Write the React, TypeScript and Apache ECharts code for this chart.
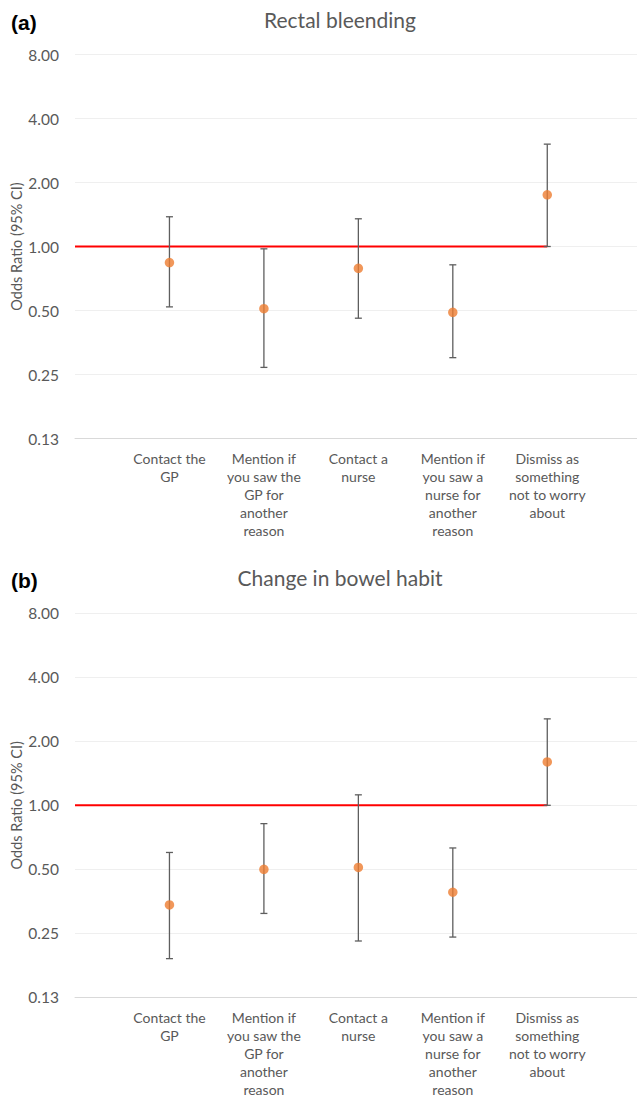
import React, { useEffect, useRef } from "react";
import * as echarts from "echarts";

const categories = [
  "Contact the\nGP",
  "Mention if\nyou saw the\nGP for\nanother\nreason",
  "Contact a\nnurse",
  "Mention if\nyou saw a\nnurse for\nanother\nreason",
  "Dismiss as\nsomething\nnot to worry\nabout",
];

const panelLabels = ["(a)", "(b)"];
const panelTitles = ["Rectal bleending", "Change in bowel habit"];
const yAxisTitle = "Odds Ratio (95% CI)";

// Panel (a): Rectal bleeding
const orA = [0.84, 0.51, 0.79, 0.49, 1.75];
const lowA = [0.52, 0.27, 0.46, 0.3, 1.0];
const highA = [1.38, 0.975, 1.35, 0.82, 3.03];

// Panel (b): Change in bowel habit
const orB = [0.34, 0.5, 0.51, 0.39, 1.6];
const lowB = [0.19, 0.31, 0.23, 0.24, 1.0];
const highB = [0.6, 0.82, 1.12, 0.63, 2.55];

const refValue = 1;
const yMin = 0.125;
const yMax = 8;

const TEXT = "#595959";
const FONT = "Lato, 'Noto Sans', sans-serif";

export default function App() {
  const ref = useRef<HTMLDivElement>(null);

  useEffect(() => {
    if (!ref.current) return;
    const chart = echarts.init(ref.current, undefined, { renderer: "svg" });

    const panels = [
      { or: orA, low: lowA, high: highA, top: 54.5 },
      { or: orB, low: lowB, high: highB, top: 613.3 },
    ];
    const plotH = 384;
    const xMin = 0;
    const xMax = 5.95;

    const grids: any[] = [];
    const xAxes: any[] = [];
    const yAxes: any[] = [];
    const series: any[] = [];
    const titles: any[] = [];
    const graphics: any[] = [];

    panels.forEach((p, gi) => {
      grids.push({
        left: 75,
        right: 0,
        top: p.top,
        height: plotH,
        containLabel: false,
        outerBoundsMode: "none",
      });
      xAxes.push({
        type: "value",
        gridIndex: gi,
        min: xMin,
        max: xMax,
        splitLine: { show: false },
        axisTick: { show: false },
        axisLine: { show: true, lineStyle: { color: "#D9D9D9", width: 1 } },
        axisLabel: {
          customValues: categories.map((_, i) => i + 1),
          formatter: (v: number) => categories[Math.round(v) - 1] ?? "",
          color: TEXT,
          fontFamily: FONT,
          fontSize: 14,
          lineHeight: 18,
          margin: 11,
          align: "center",
        },
      });
      yAxes.push({
        type: "log",
        logBase: 2,
        gridIndex: gi,
        min: yMin,
        max: yMax,
        splitNumber: 6,
        axisLine: { show: false },
        axisTick: { show: false },
        splitLine: { show: true, lineStyle: { color: "#EFEFEF", width: 1 } },
        axisLabel: {
          formatter: (v: number) => v.toFixed(2),
          color: TEXT,
          fontFamily: FONT,
          fontSize: 15.5,
          margin: 16,
        },
      });

      graphics.push({
        type: "text",
        x: 16.5,
        y: p.top + plotH / 2,
        rotation: Math.PI / 2,
        style: {
          text: yAxisTitle,
          fill: TEXT,
          font: `14.5px ${FONT}`,
          align: "center",
          verticalAlign: "middle",
        },
      });

      series.push({
        type: "line",
        xAxisIndex: gi,
        yAxisIndex: gi,
        data: [
          [xMin, refValue],
          [categories.length, refValue],
        ],
        symbol: "none",
        lineStyle: { color: "#FF0000", width: 2 },
        silent: true,
        z: 2,
      });

      series.push({
        type: "custom",
        xAxisIndex: gi,
        yAxisIndex: gi,
        data: categories.map((_, i) => [i + 1, p.low[i], p.high[i]]),
        encode: { x: 0, y: [1, 2] },
        renderItem: (params: any, api: any) => {
          const x = api.value(0);
          const lo = api.coord([x, api.value(1)]);
          const hi = api.coord([x, api.value(2)]);
          const hw = 3.5;
          const style = { stroke: "#5E5E5E", lineWidth: 1.3 };
          return {
            type: "group",
            children: [
              { type: "line", shape: { x1: lo[0], y1: lo[1], x2: hi[0], y2: hi[1] }, style },
              { type: "line", shape: { x1: lo[0] - hw, y1: lo[1], x2: lo[0] + hw, y2: lo[1] }, style },
              { type: "line", shape: { x1: hi[0] - hw, y1: hi[1], x2: hi[0] + hw, y2: hi[1] }, style },
            ],
          };
        },
        z: 3,
      });

      series.push({
        type: "scatter",
        xAxisIndex: gi,
        yAxisIndex: gi,
        data: categories.map((_, i) => [i + 1, p.or[i]]),
        symbol: "circle",
        symbolSize: 9.5,
        itemStyle: { color: "#ED7D31" },
        z: 4,
      });

      titles.push({
        text: panelLabels[gi],
        left: 11,
        top: p.top - 43,
        padding: 0,
        textStyle: {
          fontFamily: "'Liberation Sans', Arial, sans-serif",
          fontWeight: "bold",
          fontSize: 21,
          color: "#000000",
        },
      });
      titles.push({
        text: panelTitles[gi],
        left: 340,
        top: p.top - 46,
        padding: 0,
        textAlign: "center",
        textStyle: {
          fontFamily: FONT,
          fontWeight: "normal",
          fontSize: 21,
          color: TEXT,
        },
      });
    });

    chart.setOption({
      animation: false,
      backgroundColor: "#FFFFFF",
      title: titles,
      grid: grids,
      xAxis: xAxes,
      yAxis: yAxes,
      graphic: graphics,
      series,
    });

    return () => chart.dispose();
  }, []);

  return (
    <div
      ref={ref}
      style={{ position: "absolute", left: 0, top: 0, width: 637, height: 1097 }}
    />
  );
}
